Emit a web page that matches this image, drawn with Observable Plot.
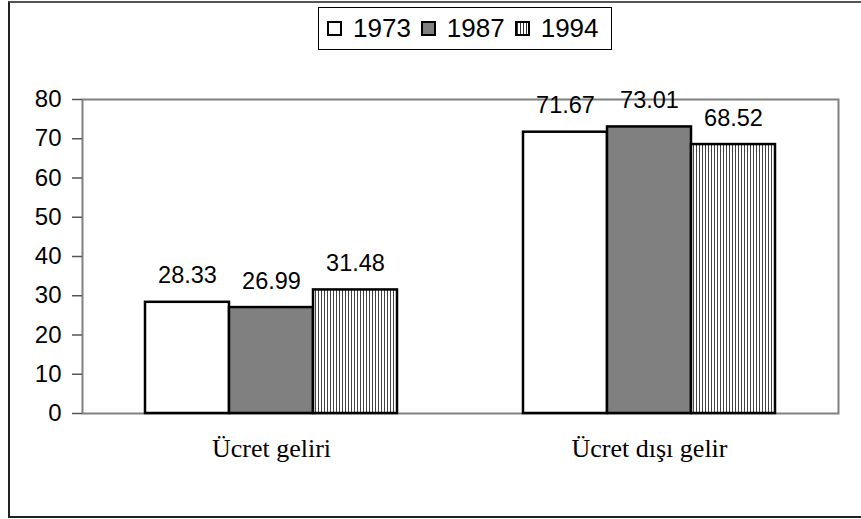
<!DOCTYPE html>
<html><head><meta charset="utf-8">
<script src="https://cdn.jsdelivr.net/npm/d3@7"></script>
<script src="https://cdn.jsdelivr.net/npm/@observablehq/plot@0.6"></script>
<style>
body{margin:0;background:#fff;}
#wrap{position:relative;width:861px;height:519px;overflow:hidden;font-family:"Liberation Sans",Arial,sans-serif;background:#fff;}
#chart{position:absolute;left:0;top:0;}
#border{position:absolute;left:8px;top:1px;width:900px;height:517px;border:2px solid #222;border-top-color:#555;box-sizing:border-box;pointer-events:none;}
#legend{position:absolute;left:318px;top:7px;width:294px;height:43px;border:1.5px solid #000;box-sizing:border-box;display:flex;align-items:center;padding-left:8px;font-size:26px;color:#000;background:#fff;}
#legend .item{display:flex;align-items:center;margin-right:10px;}
#legend .sw{width:11px;height:11px;border:2px solid #000;margin-right:11px;}
</style></head>
<body>
<div id="wrap">
  <div id="chart"></div>
  <div id="border"></div>
  <div id="legend"></div>
</div>
<script>
const categories = ["Ücret geliri", "Ücret dışı gelir"];
const years = ["1973", "1987", "1994"];
const values1973 = [28.33, 71.67];
const values1987 = [26.99, 73.01];
const values1994 = [31.48, 68.52];
const yTicks = [0, 10, 20, 30, 40, 50, 60, 70, 80];

const seriesByYear = {"1973": values1973, "1987": values1987, "1994": values1994};
const rows = [];
categories.forEach((cat, i) => {
  years.forEach(year => rows.push({cat, year, value: seriesByYear[year][i]}));
});

const fillRange = ["#ffffff", "#808080", "url(#hatch)"];

const chart = Plot.plot({
  width: 861,
  height: 519,
  marginLeft: 82,
  marginRight: 23,
  marginTop: 99,
  marginBottom: 106,
  style: {fontFamily: "'Liberation Sans', Arial, sans-serif", background: "transparent", color: "#000"},
  fx: {domain: categories, padding: 0, label: null},
  x: {domain: years, paddingInner: 0, paddingOuter: 0.732, axis: null},
  y: {domain: [0, 80], axis: null},
  color: {type: "ordinal", domain: years, range: fillRange},
  marks: [
    Plot.frame({facet: "super", stroke: "#808080", strokeWidth: 2}),
    Plot.axisY({ticks: yTicks, tickSize: 10, tickPadding: 11, fontSize: 24, label: null, stroke: "#555", strokeWidth: 1.5}),
    Plot.axisFx({anchor: "bottom", tickSize: 0, tickPadding: 25, fontSize: 26, fontFamily: "'Liberation Serif', 'Times New Roman', serif", label: null}),
    Plot.barY(rows, {fx: "cat", x: "year", y: "value", fill: "year", stroke: "#000", strokeWidth: 2.5}),
    Plot.text(rows, {fx: "cat", x: "year", y: "value", text: d => d.value.toFixed(2), dy: -19, lineAnchor: "bottom", fontSize: 23.5, fill: "#000"})
  ]
});

const svg = chart.tagName.toLowerCase() === "svg" ? chart : chart.querySelector("svg");
const ns = "http://www.w3.org/2000/svg";
const defs = document.createElementNS(ns, "defs");
const pat = document.createElementNS(ns, "pattern");
pat.setAttribute("id", "hatch");
pat.setAttribute("patternUnits", "userSpaceOnUse");
pat.setAttribute("width", "3");
pat.setAttribute("height", "10");
const bg = document.createElementNS(ns, "rect");
bg.setAttribute("width", "3"); bg.setAttribute("height", "10"); bg.setAttribute("fill", "#fff");
const ln = document.createElementNS(ns, "rect");
ln.setAttribute("x", "0"); ln.setAttribute("width", "1"); ln.setAttribute("height", "10"); ln.setAttribute("fill", "#444");
pat.appendChild(bg); pat.appendChild(ln);
defs.appendChild(pat);
svg.insertBefore(defs, svg.firstChild);
document.getElementById("chart").appendChild(chart);

// legend
const legend = document.getElementById("legend");
years.forEach((y, i) => {
  const item = document.createElement("div");
  item.className = "item";
  const sw = document.createElement("div");
  sw.className = "sw";
  if (i === 2) {
    sw.style.background = "repeating-linear-gradient(90deg, #333 0 1px, #fff 1px 3px)";
  } else {
    sw.style.background = fillRange[i];
  }
  const t = document.createElement("span");
  t.textContent = y;
  item.appendChild(sw); item.appendChild(t);
  legend.appendChild(item);
});
</script>
</body></html>
